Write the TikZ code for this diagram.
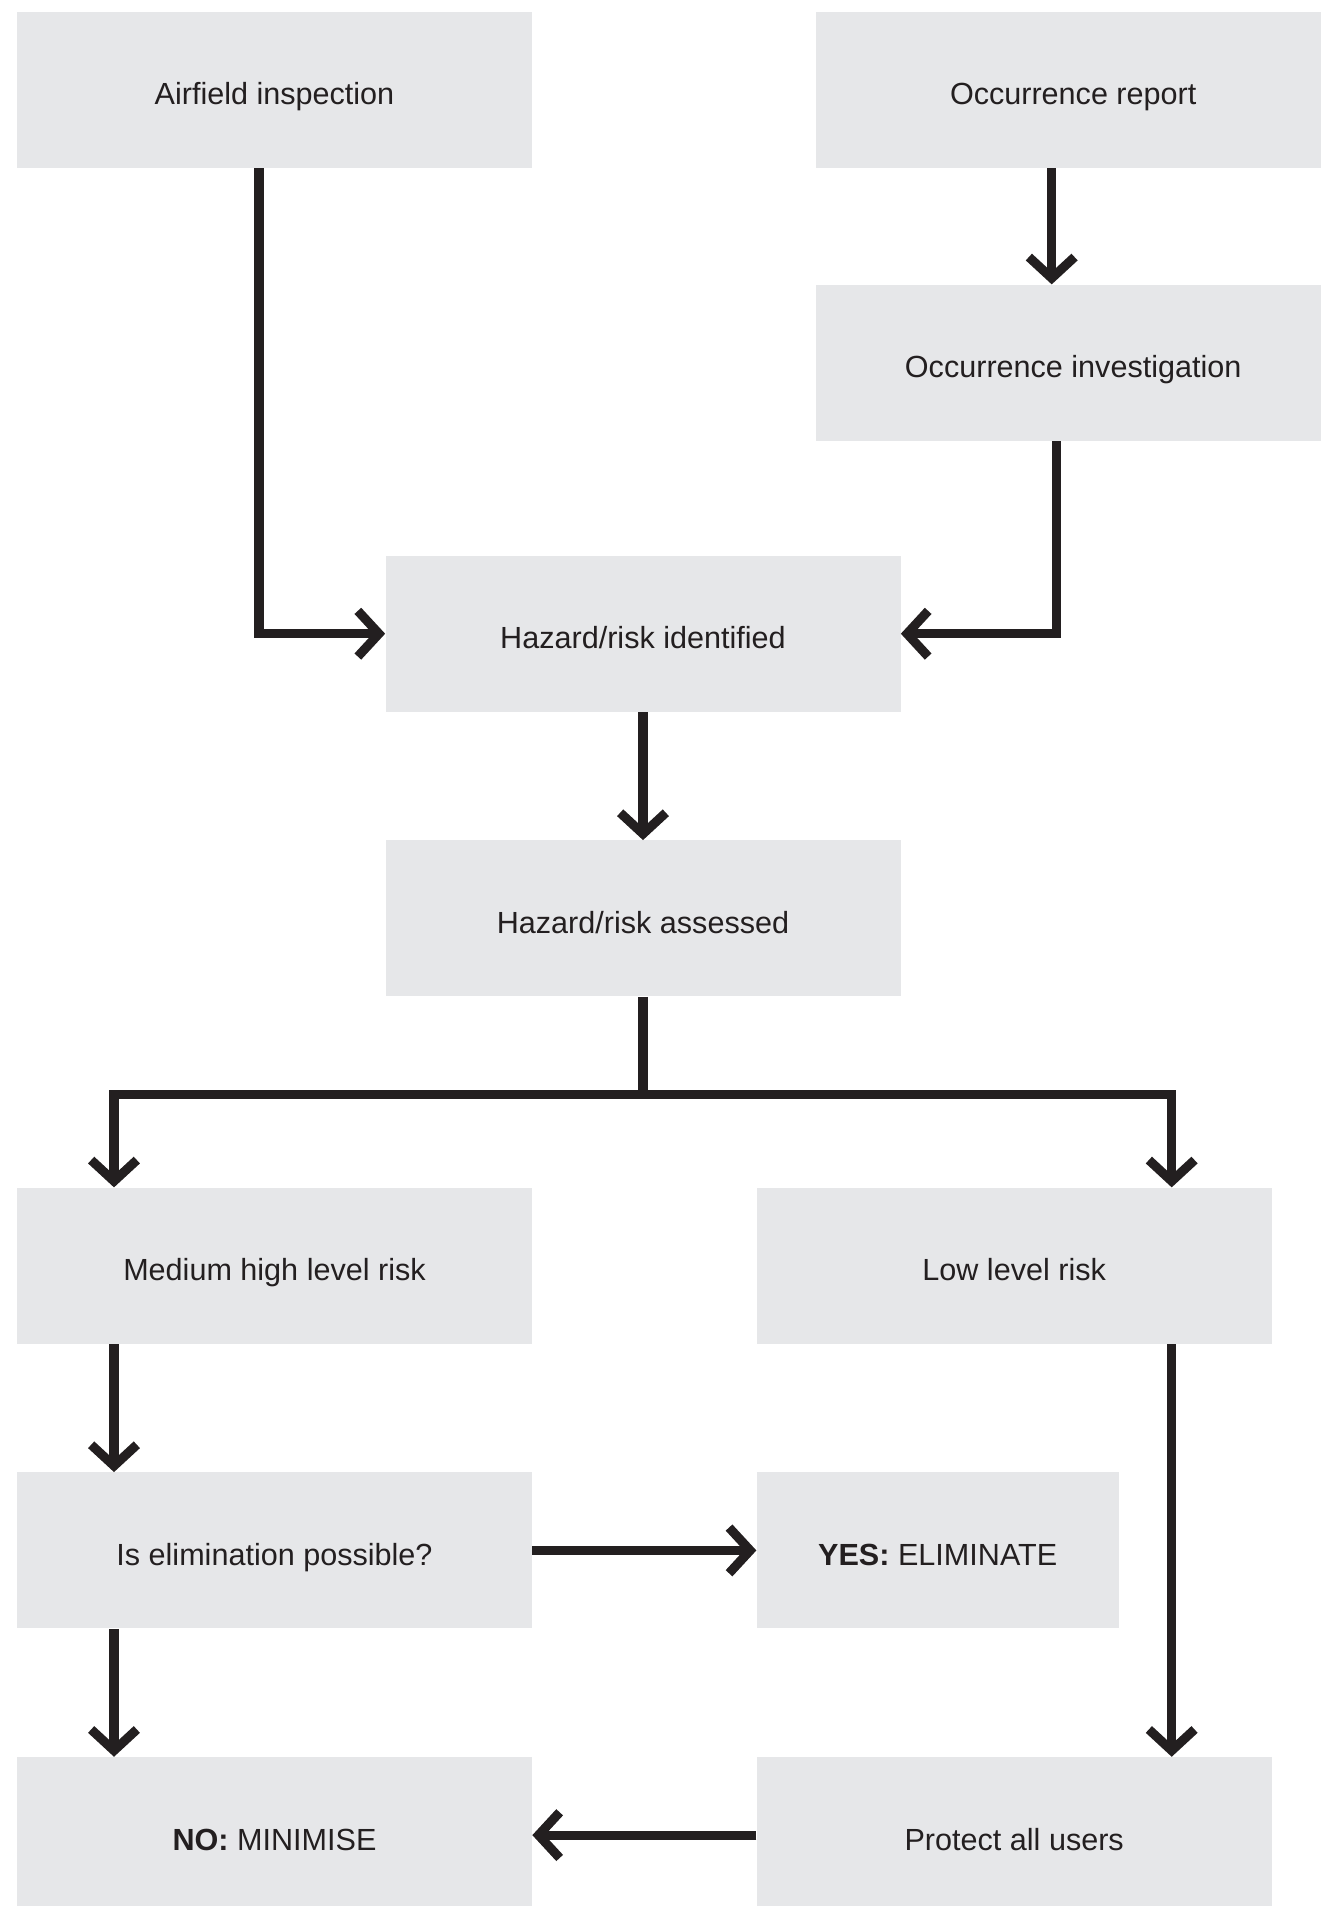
\documentclass[tikz,border=0pt]{standalone}
\usepackage{fontspec}
\setmainfont{Liberation Sans}
\usetikzlibrary{positioning,arrows.meta}

\definecolor{boxgray}{HTML}{E6E7E9}
\definecolor{inkdark}{HTML}{231F20}

\begin{document}
\begin{tikzpicture}[
    font=\fontsize{17.4}{20}\selectfont,
    box/.style={fill=boxgray, minimum width=10.3cm, minimum height=3.12cm,
                align=center, text=inkdark, inner sep=0pt,
                text height=1.7em, text depth=0pt},
    smallbox/.style={box, minimum width=7.24cm},
    arr/.style={-{Straight Barb[sharp, length=12pt, width=26pt]}, line width=5.2pt,
                draw=inkdark},
  ]
    \useasboundingbox (0,0) rectangle (26.4,-38.12);

    % Sources (top row)
    \node[box] (airfield) at (5.49,-1.8) {Airfield inspection};
    \node[box, right=5.66cm of airfield] (report) {Occurrence report};
    \node[box, below=2.32cm of report]   (invest) {Occurrence investigation};

    % Centre lane
    \node[box, below=7.74cm of airfield, xshift=7.37cm] (identified) {Hazard/risk identified};
    \node[box, below=2.56cm of identified]              (assessed)   {Hazard/risk assessed};

    % Left lane
    \node[box, below=20.38cm of airfield] (medium) {Medium high level risk};
    \node[box, below=2.56cm of medium]    (elim)   {Is elimination possible?};
    \node[box, below=2.56cm of elim]      (minimise) {\textbf{NO:} MINIMISE};

    % Right lane
    \node[box,      right=4.48cm of medium]   (low)       {Low level risk};
    \node[smallbox, right=4.48cm of elim]     (eliminate) {\textbf{YES:} ELIMINATE};
    \node[box,      right=4.48cm of minimise] (protect)   {Protect all users};

    % Fork point below assessment
    \coordinate[below=1.96cm of assessed] (fork);

    % Arrows
    \draw[arr] ([xshift=-0.31cm]airfield.south) |- (identified.west);
    \draw[arr] ([xshift=-0.43cm]report.south) -- ([xshift=-0.43cm]invest.north);
    \draw[arr] ([xshift=-0.33cm]invest.south) |- (identified.east);
    \draw[arr] (identified) -- (assessed);
    \draw[arr] (assessed.south) -- (fork) -| ([xshift=-3.21cm]medium.north);
    \draw[arr] (fork) -| ([xshift=3.15cm]low.north);
    \draw[arr] ([xshift=-3.21cm]medium.south) -- ([xshift=-3.21cm]elim.north);
    \draw[arr] (elim) -- (eliminate);
    \draw[arr] ([xshift=-3.21cm]elim.south) -- ([xshift=-3.21cm]minimise.north);
    \draw[arr] ([xshift=3.15cm]low.south) -- ([xshift=3.15cm]protect.north);
    \draw[arr] (protect) -- (minimise);
  \end{tikzpicture}
\end{document}
